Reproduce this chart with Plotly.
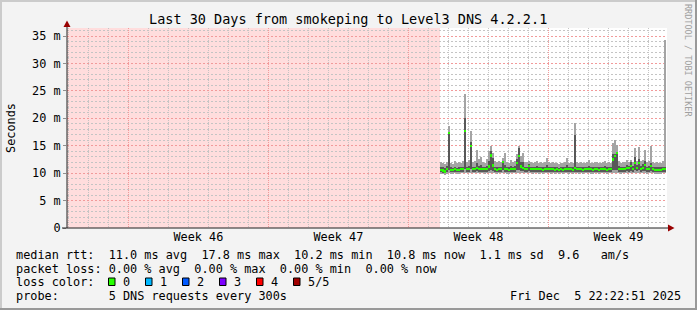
import plotly.graph_objects as go
import pandas as pd

# ---------------- data ----------------
range_start = "2025-11-05 22:22:51"
range_end = "2025-12-05 22:22:51"
data_start = "2025-11-24 14:00:00"
step_minutes = 144

rtt_max = [12.1, 11.9, 11.6, 12.0, 18.6, 11.9, 11.7, 12.3, 11.8, 12.0,
           11.8, 12.2, 24.4, 12.0, 12.4, 17.6, 12.1, 12.3, 14.2, 12.5,
           13.0, 12.1, 11.9, 12.6, 14.0, 15.0, 13.6, 12.2, 12.0, 12.3,
           12.0, 12.8, 13.7, 12.0, 11.9, 12.4, 12.0, 12.3, 13.5, 15.0,
           13.2, 13.7, 12.1, 12.0, 12.3, 12.0, 11.8, 12.0, 12.2, 11.9,
           12.0, 11.8, 12.1, 12.8, 12.0, 11.9, 12.1, 11.8, 11.9, 11.7,
           11.8, 11.9, 12.0, 12.8, 11.9, 12.1, 11.8, 19.2, 12.0, 11.9,
           12.1, 11.8, 11.9, 12.0, 12.4, 11.9, 11.8, 12.0, 12.1, 11.8,
           11.9, 12.0, 12.2, 11.8, 12.0, 11.9, 15.5, 16.0, 15.1, 12.2,
           11.9, 12.1, 12.0, 12.4, 12.0, 12.4, 12.1, 14.5, 12.3, 14.7,
           12.2, 12.4, 14.2, 12.0, 12.3, 15.0, 12.1, 11.9, 12.0, 11.8,
           11.9, 12.3, 34.3]
rtt_p4 = [11.2, 11.1, 10.9, 11.3, 17.5, 11.1, 11.0, 11.2, 11.0, 11.1,
          11.1, 11.2, 20.0, 11.2, 11.3, 15.6, 11.1, 11.2, 11.8, 11.3,
          11.4, 11.2, 11.1, 11.3, 12.2, 14.0, 12.8, 11.2, 11.1, 11.2,
          11.2, 12.3, 11.5, 11.1, 11.1, 11.3, 11.2, 11.3, 12.5, 14.6,
          12.0, 12.0, 11.2, 11.2, 11.6, 11.2, 11.1, 11.2, 11.3, 11.1,
          11.2, 11.1, 11.2, 11.4, 11.2, 11.1, 11.2, 11.1, 11.2, 11.0,
          11.1, 11.1, 11.2, 11.4, 11.1, 11.2, 11.1, 17.0, 11.2, 11.1,
          11.2, 11.1, 11.1, 11.2, 11.3, 11.1, 11.1, 11.2, 11.2, 11.1,
          11.1, 11.2, 11.3, 11.1, 11.2, 11.1, 13.5, 13.5, 13.9, 11.3,
          11.1, 11.2, 11.2, 11.5, 11.3, 12.0, 11.3, 13.0, 11.5, 12.5,
          11.3, 11.6, 12.2, 11.2, 11.3, 11.8, 11.2, 11.1, 11.1, 11.1,
          11.1, 11.2, 11.2]
rtt_median = [10.6, 10.5, 10.3, 10.8, 17.3, 10.6, 10.6, 10.7, 10.6, 10.6,
              10.7, 10.8, 17.7, 10.7, 10.8, 15.0, 10.7, 10.7, 10.9, 10.8,
              10.8, 10.7, 10.7, 10.8, 11.2, 13.2, 11.4, 10.7, 10.6, 10.7,
              10.7, 12.1, 10.8, 10.7, 10.6, 10.8, 10.7, 10.8, 11.9, 13.1,
              11.2, 11.0, 10.8, 10.7, 11.3, 10.8, 10.7, 10.7, 10.8, 10.7,
              10.7, 10.6, 10.7, 10.8, 10.7, 10.7, 10.7, 10.6, 10.7, 10.6,
              10.7, 10.6, 10.7, 10.8, 10.7, 10.7, 10.6, 10.9, 10.7, 10.7,
              10.7, 10.6, 10.7, 10.7, 10.8, 10.7, 10.6, 10.7, 10.7, 10.6,
              10.7, 10.7, 10.8, 10.6, 10.7, 10.7, 12.5, 13.1, 13.7, 10.8,
              10.7, 10.7, 10.8, 11.0, 10.9, 11.3, 10.8, 11.9, 11.0, 11.9,
              10.8, 11.0, 11.5, 10.7, 10.8, 11.3, 10.7, 10.6, 10.6, 10.6,
              10.6, 10.7, 10.8]
rtt_p2 = [10.2, 10.1, 10.0, 10.3, 10.6, 10.2, 10.2, 10.3, 10.2, 10.2,
          10.3, 10.3, 10.8, 10.3, 10.3, 10.8, 10.3, 10.3, 10.4, 10.3,
          10.3, 10.3, 10.3, 10.3, 10.4, 10.6, 10.4, 10.3, 10.2, 10.3,
          10.3, 10.5, 10.3, 10.3, 10.2, 10.3, 10.3, 10.3, 10.5, 10.6,
          10.4, 10.4, 10.3, 10.3, 10.4, 10.3, 10.3, 10.3, 10.3, 10.2,
          10.3, 10.2, 10.3, 10.3, 10.3, 10.3, 10.3, 10.2, 10.3, 10.2,
          10.3, 10.2, 10.3, 10.3, 10.3, 10.3, 10.2, 10.3, 10.3, 10.3,
          10.3, 10.2, 10.3, 10.3, 10.3, 10.3, 10.2, 10.3, 10.3, 10.2,
          10.3, 10.3, 10.3, 10.2, 10.3, 10.3, 10.5, 10.6, 10.6, 10.3,
          10.3, 10.3, 10.3, 10.4, 10.3, 10.4, 10.3, 10.5, 10.4, 10.5,
          10.3, 10.4, 10.4, 10.3, 10.3, 10.4, 10.3, 10.2, 10.2, 10.2,
          10.2, 10.3, 10.3]
rtt_min = [9.8, 9.8, 9.7, 9.9, 10.0, 9.9, 9.9, 10.0, 9.9, 9.9,
           10.0, 10.0, 10.1, 10.0, 10.0, 10.1, 10.0, 10.0, 10.0, 10.0,
           10.0, 10.0, 9.9, 10.0, 10.0, 10.0, 10.0, 10.0, 9.9, 10.0,
           10.0, 10.0, 10.0, 9.9, 9.9, 10.0, 10.0, 10.0, 10.0, 10.0,
           10.0, 10.0, 10.0, 10.0, 10.0, 10.0, 9.9, 10.0, 10.0, 9.9,
           10.0, 9.9, 10.0, 10.0, 10.0, 9.9, 10.0, 9.9, 10.0, 9.9,
           10.0, 9.9, 10.0, 10.0, 9.9, 10.0, 9.9, 10.0, 10.0, 9.9,
           10.0, 9.9, 10.0, 10.0, 10.0, 9.9, 9.9, 10.0, 10.0, 9.9,
           10.0, 10.0, 10.0, 9.9, 10.0, 10.0, 10.0, 10.1, 10.1, 10.0,
           9.9, 10.0, 10.0, 10.0, 10.0, 10.0, 10.0, 10.0, 10.0, 10.0,
           10.0, 10.0, 10.0, 9.9, 10.0, 10.0, 10.0, 9.9, 9.9, 9.9,
           9.9, 10.0, 10.0]

week_grid_start = "2025-11-09"
day_grid_start = "2025-11-06"
week_label_pos = ["2025-11-12 12:00", "2025-11-19 12:00",
                  "2025-11-26 12:00", "2025-12-03 12:00"]
week_labels = ["Week 46", "Week 47", "Week 48", "Week 49"]
y_tick_vals = [0, 5, 10, 15, 20, 25, 30, 35]
y_tick_text = ["0", "5 m", "10 m", "15 m", "20 m", "25 m", "30 m", "35 m"]
y_top = 36.46

loss_colors = ["#26ff00", "#00b8ff", "#0059ff", "#7e00ff", "#ff0000", "#a10000"]
loss_labels = ["0", "1", "2", "3", "4", "5/5"]

title_text = "Last 30 Days from smokeping to Level3 DNS 4.2.2.1"
legend_lines = [
    "median rtt:  11.0 ms avg  17.8 ms max  10.2 ms min  10.8 ms now  1.1 ms sd  9.6   am/s",
    "packet loss: 0.00 % avg  0.00 % max  0.00 % min  0.00 % now",
    "loss color:",
    "probe:       5 DNS requests every 300s",
]
stamp_text = "Fri Dec  5 22:22:51 2025"
side_text = "RRDTOOL / TOBI OETIKER"

# ---------------- layout constants ----------------
W, H = 697, 310
L, R, T, B = 67, 30, 28, 82
PW, PH = W - L - R, H - T - B
FONT = "DejaVu Sans Mono"
FS = 11.85
DAY_MS = 86400000


def px(x):
    return (x - L) / PW


def py(y):
    return (T + PH - y) / PH


def nb(s):
    return s.replace(" ", "\u00a0")


step = pd.Timedelta(minutes=step_minutes)
times = [pd.Timestamp(data_start) + step * (i + 0.5) for i in range(len(rtt_median))]
width_ms = step_minutes * 60 * 1000

outer_h = [a - b for a, b in zip(rtt_max, rtt_min)]
inner_h = [a - b for a, b in zip(rtt_p4, rtt_p2)]
med_half = 0.2
med_base = [m - med_half for m in rtt_median]

fig = go.Figure()
fig.add_trace(go.Bar(x=times, y=outer_h, base=rtt_min, width=width_ms,
                     marker=dict(color="#a4a4a4", line=dict(width=0)),
                     hoverinfo="skip"))
fig.add_trace(go.Bar(x=times, y=inner_h, base=rtt_p2, width=width_ms,
                     marker=dict(color="#585858", line=dict(width=0)),
                     hoverinfo="skip"))
fig.add_trace(go.Bar(x=times, y=[2 * med_half] * len(times), base=med_base,
                     width=width_ms, xaxis="x2", yaxis="y2",
                     marker=dict(color=loss_colors[0], line=dict(width=0)),
                     hoverinfo="skip"))

GRID = "#c4c4c4"
MGRID = "#f29a9a"
XDOT = "1px,1px"
YDOT = "2px,2px"

shapes = []
# unknown-data area
shapes.append(dict(type="rect", xref="x", yref="paper", x0=range_start, x1=data_start,
                   y0=0, y1=1, fillcolor="#ffdddd", line=dict(width=0), layer="below"))
# axis lines
shapes.append(dict(type="line", xref="paper", yref="paper", x0=0, x1=0, y0=0, y1=py(24),
                   line=dict(color="#202020", width=1)))
shapes.append(dict(type="line", xref="paper", yref="paper", x0=px(62), x1=px(670), y0=0, y1=0,
                   line=dict(color="#202020", width=1)))
# arrows
shapes.append(dict(type="path", xref="paper", yref="paper",
                   path=f"M {px(63.5)} {py(27)} L {px(70.5)} {py(27)} L {px(67)} {py(20.5)} Z",
                   fillcolor="#990000", line=dict(width=0)))
shapes.append(dict(type="path", xref="paper", yref="paper",
                   path=f"M {px(668)} {py(224.5)} L {px(668)} {py(231.5)} L {px(674.5)} {py(228)} Z",
                   fillcolor="#990000", line=dict(width=0)))
# frame
shapes.append(dict(type="line", xref="paper", yref="paper", x0=px(0), x1=px(W), y0=py(1), y1=py(1),
                   line=dict(color="#cbcbcb", width=2)))
shapes.append(dict(type="line", xref="paper", yref="paper", x0=px(1), x1=px(1), y0=py(0), y1=py(H),
                   line=dict(color="#cbcbcb", width=2)))
shapes.append(dict(type="line", xref="paper", yref="paper", x0=px(0), x1=px(W), y0=py(H - 1), y1=py(H - 1),
                   line=dict(color="#999999", width=2)))
shapes.append(dict(type="line", xref="paper", yref="paper", x0=px(W - 1), x1=px(W - 1), y0=py(0), y1=py(H),
                   line=dict(color="#999999", width=2)))

annotations = []
annotations.append(dict(text=nb(title_text), xref="paper", yref="paper", x=px(348), y=py(19),
                        xanchor="center", yanchor="middle", showarrow=False,
                        font=dict(family=FONT, size=13.5, color="#000000")))
annotations.append(dict(text="Seconds", xref="paper", yref="paper", x=px(11), y=py(128),
                        xanchor="center", yanchor="middle", showarrow=False, textangle=-90,
                        font=dict(family=FONT, size=FS, color="#000000")))
annotations.append(dict(text=nb(side_text), xref="paper", yref="paper", x=px(688), y=py(60),
                        xanchor="center", yanchor="middle", showarrow=False, textangle=90,
                        font=dict(family=FONT, size=8.5, color="#a0a0a0")))
line_y = [255, 268.5, 282, 296]
for txt, yy in zip(legend_lines, line_y):
    annotations.append(dict(text=nb(txt), xref="paper", yref="paper", x=px(14), y=py(yy),
                            xanchor="left", yanchor="middle", showarrow=False,
                            font=dict(family=FONT, size=FS, color="#000000")))
annotations.append(dict(text=nb(stamp_text), xref="paper", yref="paper", x=px(683), y=py(296),
                        xanchor="right", yanchor="middle", showarrow=False,
                        font=dict(family=FONT, size=FS, color="#000000")))
box_x = [108.5, 145.5, 182.5, 219.5, 256.5, 293.5]
for bx, col, lab in zip(box_x, loss_colors, loss_labels):
    shapes.append(dict(type="rect", xref="paper", yref="paper", x0=px(bx), x1=px(bx + 6.5),
                       y0=py(285.5), y1=py(278), fillcolor=col,
                       line=dict(color="#000000", width=1)))
    annotations.append(dict(text=nb(lab), xref="paper", yref="paper", x=px(bx + 12.5), y=py(282),
                            xanchor="left", yanchor="middle", showarrow=False,
                            font=dict(family=FONT, size=FS, color="#000000")))

fig.update_layout(
    width=W, height=H,
    margin=dict(l=L, r=R, t=T, b=B, pad=0),
    paper_bgcolor="#f3f3f3", plot_bgcolor="#ffffff",
    barmode="overlay", bargap=0, showlegend=False,
    font=dict(family=FONT, size=FS, color="#000000"),
    shapes=shapes, annotations=annotations,
    # grid axes (linear ticks so minor grid works)
    xaxis=dict(type="date", range=[range_start, range_end],
               tickmode="linear", tick0=week_grid_start, dtick=7 * DAY_MS,
               showticklabels=False, ticks="",
               showgrid=True, gridcolor=MGRID, griddash=XDOT, gridwidth=1,
               minor=dict(tickmode="linear", tick0=day_grid_start, dtick=DAY_MS, showgrid=True,
                          gridcolor=GRID, griddash=XDOT, gridwidth=1, ticks=""),
               zeroline=False, showline=False, fixedrange=True),
    yaxis=dict(range=[0, y_top], tickmode="linear", tick0=0, dtick=5,
               showticklabels=False, ticks="",
               showgrid=True, gridcolor=MGRID, griddash=YDOT, gridwidth=1,
               minor=dict(tickmode="linear", tick0=0, dtick=1, showgrid=True, gridcolor=GRID,
                          griddash=YDOT, gridwidth=1, ticks=""),
               zeroline=False, showline=False, fixedrange=True),
    # label axes
    xaxis2=dict(type="date", range=[range_start, range_end], overlaying="x", anchor="y2",
                side="bottom", tickmode="array", tickvals=week_label_pos, ticktext=week_labels,
                showgrid=False, ticks="", zeroline=False, showline=False,
                tickfont=dict(family=FONT, size=FS, color="#000000"), fixedrange=True),
    yaxis2=dict(range=[0, y_top], overlaying="y", anchor="x2", side="left",
                tickmode="array", tickvals=y_tick_vals, ticktext=y_tick_text,
                ticks="outside", ticklen=3, tickcolor="#909090", tickwidth=1,
                showgrid=False, zeroline=False, showline=False, fixedrange=True,
                tickfont=dict(family=FONT, size=FS, color="#000000")),
)

fig.write_html("out.html", config={"displayModeBar": False})
